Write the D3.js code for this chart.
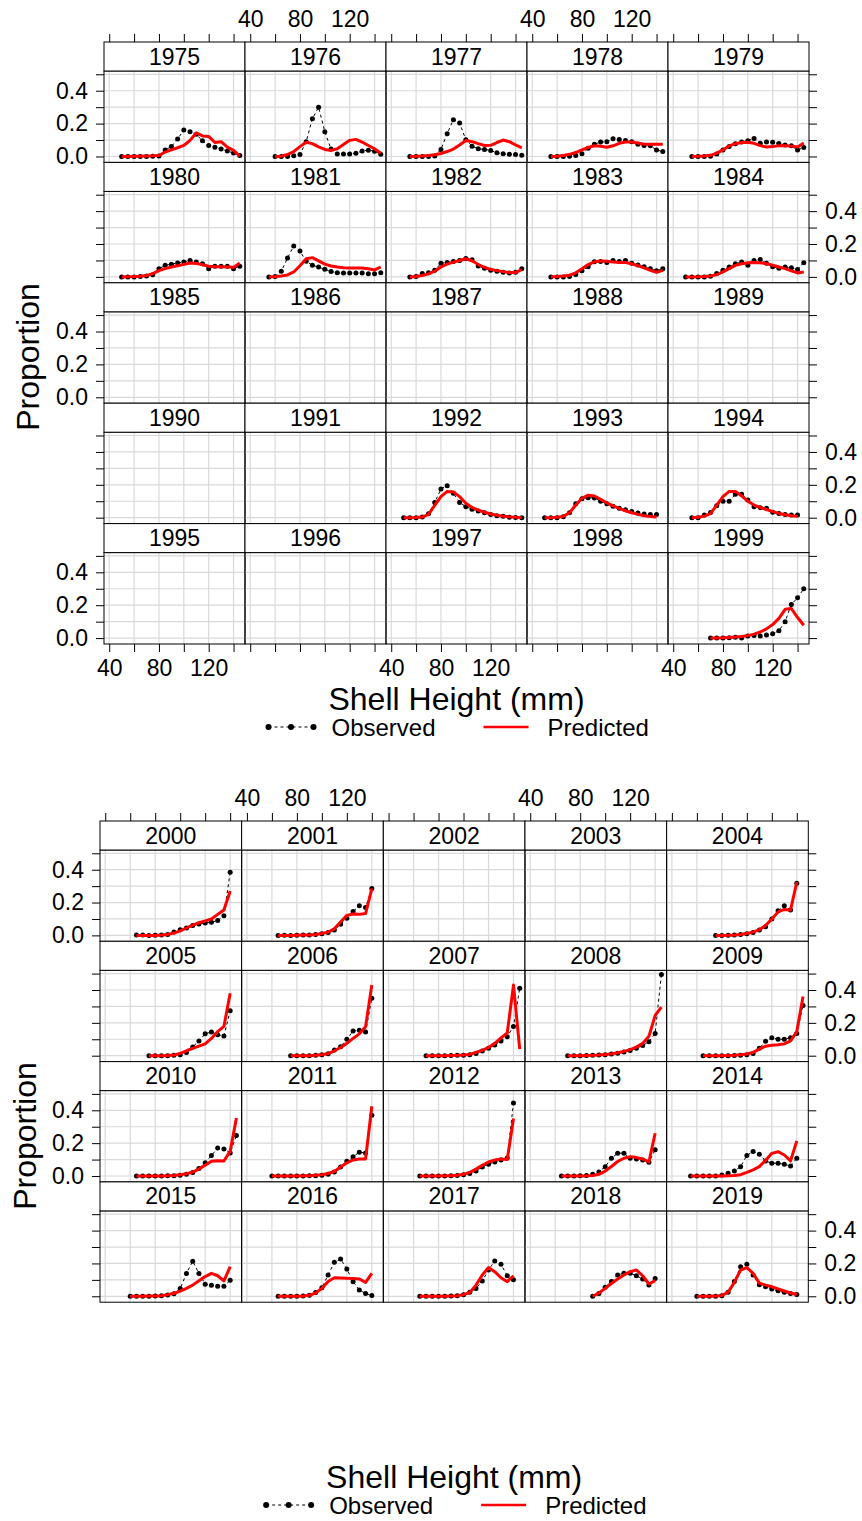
<!DOCTYPE html>
<html>
<head>
<meta charset="utf-8">
<script src="https://cdn.jsdelivr.net/npm/d3@7"></script>
<style>
  body { margin: 0; background: #fff; }
  svg { display: block; font-family: "Liberation Sans", Arial, Helvetica, sans-serif; }
</style>
</head>
<body>
<svg id="chart" width="862" height="1521"></svg>
<script>
// Shell height bins (mm) and axis ticks
const xTicks = [40, 60, 80, 100, 120, 140];
const xTickLabels = [40, 80, 120];
const yTicks = [0, 0.1, 0.2, 0.3, 0.4, 0.5];
const yTickLabels = [0, 0.2, 0.4];

// Observed / predicted size-composition proportions, one pair per survey year.
// Each series starts at the first shell-height bin given in the panel list and steps by 5 mm.
const obs1975 = [0,0,0,0,0,0.002,0.003,0.04,0.06,0.106,0.161,0.15,0.135,0.095,0.067,0.056,0.045,0.033,0.021,0.006];
const pred1975 = [0,0,0.001,0.002,0.003,0.004,0.006,0.027,0.04,0.053,0.067,0.098,0.143,0.125,0.122,0.085,0.09,0.057,0.037,0.002];
const obs1976 = [0,0,0,0.004,0.012,0.09,0.23,0.30,0.15,0.045,0.015,0.015,0.015,0.02,0.033,0.038,0.032,0.013];
const pred1976 = [0,0.002,0.012,0.03,0.06,0.087,0.078,0.058,0.043,0.037,0.047,0.073,0.098,0.104,0.088,0.067,0.047,0.02];
const obs1977 = [0,0,0,0,0.003,0.043,0.139,0.224,0.204,0.102,0.063,0.047,0.043,0.037,0.022,0.016,0.014,0.012,0.008];
const pred1977 = [0,0.001,0.003,0.006,0.01,0.018,0.03,0.045,0.07,0.097,0.09,0.078,0.067,0.068,0.085,0.1,0.09,0.07,0.053];
const obs1978 = [0,0,0,0.002,0.006,0.016,0.05,0.075,0.088,0.089,0.108,0.103,0.097,0.09,0.074,0.067,0.065,0.039,0.031];
const pred1978 = [0,0.002,0.006,0.013,0.024,0.04,0.055,0.065,0.062,0.056,0.065,0.08,0.088,0.088,0.082,0.075,0.074,0.074,0.074];
const obs1979 = [0,0,0,0.001,0.015,0.04,0.06,0.078,0.088,0.096,0.11,0.08,0.088,0.086,0.079,0.07,0.065,0.039,0.055];
const pred1979 = [0,0.001,0.003,0.007,0.02,0.04,0.065,0.078,0.085,0.087,0.08,0.066,0.058,0.06,0.066,0.066,0.063,0.058,0.082];
const obs1980 = [0,0,0,0.003,0.005,0.013,0.05,0.07,0.077,0.085,0.09,0.1,0.09,0.08,0.05,0.064,0.064,0.064,0.05,0.064];
const pred1980 = [0,0.001,0.002,0.004,0.008,0.02,0.038,0.05,0.06,0.068,0.076,0.084,0.082,0.074,0.065,0.062,0.061,0.06,0.058,0.085];
const obs1981 = [0,0.002,0.034,0.115,0.188,0.157,0.095,0.07,0.06,0.046,0.033,0.025,0.023,0.023,0.023,0.023,0.019,0.019,0.025];
const pred1981 = [0,0.002,0.005,0.012,0.03,0.068,0.11,0.117,0.097,0.078,0.066,0.06,0.056,0.054,0.054,0.054,0.05,0.042,0.06];
const obs1982 = [0,0.002,0.02,0.025,0.04,0.083,0.088,0.093,0.1,0.112,0.104,0.066,0.052,0.041,0.034,0.028,0.024,0.028,0.05];
const pred1982 = [0,0.003,0.008,0.018,0.035,0.06,0.078,0.09,0.1,0.11,0.098,0.075,0.058,0.046,0.038,0.032,0.026,0.026,0.045];
const obs1983 = [0,0,0,0.003,0.015,0.037,0.061,0.092,0.093,0.087,0.1,0.093,0.1,0.083,0.072,0.061,0.05,0.037,0.05];
const pred1983 = [0,0.002,0.005,0.01,0.025,0.05,0.075,0.092,0.097,0.095,0.09,0.088,0.087,0.08,0.068,0.055,0.04,0.028,0.04];
const obs1984 = [0,0,0,0,0.004,0.02,0.04,0.06,0.08,0.09,0.07,0.1,0.105,0.083,0.062,0.052,0.06,0.055,0.045,0.086];
const pred1984 = [0,0,0.001,0.003,0.006,0.013,0.03,0.05,0.07,0.08,0.086,0.087,0.086,0.08,0.071,0.06,0.05,0.037,0.024,0.03];
const obs1992 = [0,0,0,0.004,0.024,0.093,0.175,0.195,0.148,0.093,0.067,0.052,0.04,0.03,0.02,0.012,0.008,0.003,0.001,0];
const pred1992 = [0,0,0.001,0.004,0.02,0.075,0.128,0.16,0.157,0.128,0.088,0.062,0.046,0.033,0.022,0.015,0.009,0.005,0.002,0.001];
const obs1993 = [0,0,0,0.005,0.03,0.085,0.115,0.122,0.12,0.1,0.085,0.07,0.058,0.048,0.038,0.028,0.022,0.02,0.02];
const pred1993 = [0,0,0.002,0.008,0.03,0.077,0.118,0.137,0.132,0.112,0.09,0.072,0.057,0.042,0.03,0.02,0.012,0.007,0.004];
const obs1994 = [0,0,0.016,0.032,0.073,0.1,0.1,0.142,0.142,0.108,0.067,0.061,0.057,0.033,0.026,0.02,0.016,0.016];
const pred1994 = [0,0.002,0.01,0.025,0.077,0.128,0.16,0.16,0.133,0.1,0.077,0.062,0.05,0.037,0.026,0.018,0.012,0.008];
const obs1999 = [0,0,0,0.002,0.005,0.001,0.012,0.015,0.012,0.018,0.026,0.045,0.1,0.205,0.245,0.3];
const pred1999 = [0,0.001,0.002,0.004,0.006,0.01,0.015,0.024,0.037,0.056,0.082,0.12,0.175,0.18,0.125,0.078];

const obs2000 = [0.002,0.002,0,0.001,0.002,0.006,0.02,0.035,0.045,0.06,0.07,0.075,0.08,0.09,0.12,0.385];
const pred2000 = [0,0,0,0,0.002,0.006,0.014,0.027,0.045,0.063,0.077,0.088,0.1,0.128,0.155,0.27];
const obs2001 = [0,0.001,0,0.001,0.002,0.002,0.005,0.01,0.018,0.033,0.068,0.105,0.145,0.18,0.17,0.285];
const pred2001 = [0,0,0,0.001,0.002,0.003,0.006,0.011,0.02,0.04,0.082,0.122,0.13,0.128,0.133,0.285];
const obs2004 = [0,0,0.001,0.002,0.006,0.01,0.018,0.033,0.053,0.1,0.15,0.18,0.155,0.318];
const pred2004 = [0,0,0.001,0.003,0.006,0.011,0.02,0.035,0.06,0.1,0.143,0.158,0.155,0.325];
const obs2005 = [0,0,0,0,0.002,0.005,0.02,0.053,0.09,0.133,0.145,0.127,0.12,0.273];
const pred2005 = [0,0,0,0.001,0.004,0.014,0.03,0.045,0.058,0.072,0.105,0.147,0.178,0.38];
const obs2006 = [0,0,0,0,0.002,0.005,0.012,0.035,0.055,0.1,0.15,0.155,0.145,0.35];
const pred2006 = [0,0,0,0,0.002,0.005,0.013,0.03,0.05,0.075,0.105,0.133,0.176,0.43];
const obs2007 = [0,0,0,0,0.001,0.002,0.003,0.005,0.014,0.029,0.045,0.065,0.09,0.116,0.178,0.41];
const pred2007 = [0,0,0,0,0.001,0.002,0.004,0.008,0.02,0.033,0.05,0.075,0.108,0.138,0.43,0.04];
const obs2008 = [0,0,0,0.001,0.002,0.004,0.006,0.01,0.015,0.022,0.032,0.045,0.062,0.085,0.135,0.495];
const pred2008 = [0,0,0,0.001,0.002,0.004,0.007,0.011,0.018,0.026,0.037,0.052,0.075,0.118,0.245,0.296];
const obs2009 = [0,0,0,0,0,0.001,0.003,0.006,0.014,0.045,0.088,0.11,0.1,0.1,0.11,0.135,0.305];
const pred2009 = [0,0,0,0,0.001,0.002,0.005,0.01,0.02,0.04,0.058,0.063,0.066,0.072,0.09,0.147,0.36];
const obs2010 = [0,0,0,0,0,0.001,0.002,0.005,0.01,0.022,0.045,0.08,0.125,0.17,0.165,0.14,0.247];
const pred2010 = [0,0,0,0,0,0.001,0.003,0.007,0.013,0.024,0.042,0.066,0.09,0.093,0.092,0.15,0.353];
const obs2011 = [0,0,0,0,0,0,0.001,0.002,0.005,0.01,0.025,0.055,0.09,0.117,0.145,0.14,0.37];
const pred2011 = [0,0,0,0,0,0.001,0.002,0.004,0.008,0.015,0.027,0.055,0.08,0.098,0.103,0.104,0.425];
const obs2012 = [0,0,0,0,0,0.001,0.003,0.007,0.015,0.03,0.055,0.072,0.085,0.098,0.11,0.445];
const pred2012 = [0,0,0,0,0.001,0.002,0.005,0.01,0.022,0.042,0.065,0.085,0.097,0.103,0.1,0.35];
const obs2013 = [0,0,0,0.001,0.003,0.01,0.025,0.057,0.108,0.139,0.139,0.108,0.104,0.098,0.084,0.16];
const pred2013 = [0,0,0,0,0.001,0.003,0.01,0.03,0.058,0.088,0.108,0.118,0.112,0.104,0.085,0.26];
const obs2014 = [0,0,0,0,0,0.006,0.016,0.03,0.057,0.125,0.149,0.133,0.092,0.078,0.078,0.071,0.061,0.108];
const pred2014 = [0,0,0,0,0,0,0.001,0.003,0.008,0.022,0.037,0.057,0.095,0.138,0.148,0.128,0.092,0.214];
const obs2015 = [0,0,0,0,0.002,0.004,0.008,0.015,0.047,0.139,0.214,0.139,0.074,0.067,0.061,0.061,0.098];
const pred2015 = [0,0,0,0.001,0.002,0.004,0.01,0.018,0.032,0.048,0.068,0.095,0.12,0.14,0.125,0.094,0.18];
const obs2016 = [0,0,0,0,0.002,0.007,0.023,0.052,0.13,0.207,0.227,0.166,0.089,0.038,0.017,0.005];
const pred2016 = [0,0,0,0,0.002,0.006,0.02,0.048,0.09,0.113,0.112,0.11,0.109,0.105,0.085,0.14];
const obs2017 = [0,0,0,0,0,0.001,0.003,0.01,0.025,0.048,0.093,0.16,0.215,0.195,0.125,0.1];
const pred2017 = [0,0,0,0,0,0.001,0.003,0.01,0.023,0.068,0.13,0.175,0.15,0.113,0.089,0.125];
const obs2018 = [0,0.017,0.055,0.09,0.13,0.14,0.14,0.125,0.105,0.068,0.109];
const pred2018 = [0,0.02,0.048,0.078,0.105,0.13,0.15,0.16,0.125,0.075,0.095];
const obs2019 = [0,0,0,0,0.003,0.024,0.09,0.18,0.195,0.13,0.07,0.058,0.045,0.033,0.024,0.017,0.011];
const pred2019 = [0,0,0,0.001,0.005,0.025,0.085,0.16,0.175,0.14,0.08,0.068,0.058,0.045,0.032,0.02,0.011];

// Panel order (as.table): year, first bin (mm), observed, predicted
const yearsA = [
  [1975, 50, obs1975, pred1975], [1976, 60, obs1976, pred1976], [1977, 55, obs1977, pred1977],
  [1978, 55, obs1978, pred1978], [1979, 55, obs1979, pred1979],
  [1980, 50, obs1980, pred1980], [1981, 55, obs1981, pred1981], [1982, 55, obs1982, pred1982],
  [1983, 55, obs1983, pred1983], [1984, 50, obs1984, pred1984],
  [1985], [1986], [1987], [1988], [1989],
  [1990], [1991], [1992, 50, obs1992, pred1992], [1993, 50, obs1993, pred1993], [1994, 55, obs1994, pred1994],
  [1995], [1996], [1997], [1998], [1999, 70, obs1999, pred1999]
];
const yearsB = [
  [2000, 65, obs2000, pred2000], [2001, 65, obs2001, pred2001], [2002], [2003], [2004, 75, obs2004, pred2004],
  [2005, 75, obs2005, pred2005], [2006, 75, obs2006, pred2006], [2007, 70, obs2007, pred2007],
  [2008, 70, obs2008, pred2008], [2009, 65, obs2009, pred2009],
  [2010, 65, obs2010, pred2010], [2011, 60, obs2011, pred2011], [2012, 65, obs2012, pred2012],
  [2013, 65, obs2013, pred2013], [2014, 55, obs2014, pred2014],
  [2015, 60, obs2015, pred2015], [2016, 65, obs2016, pred2016], [2017, 65, obs2017, pred2017],
  [2018, 90, obs2018, pred2018], [2019, 60, obs2019, pred2019]
];

const xDomain = [35.8, 149.2];
const yDomain = [-0.036, 0.52];
const BIN = 5;

const svg = d3.select("#chart");
const fmtY = d3.format(".1f");

function toPoints(first, values) {
  return values.map((v, i) => ({ size: first + i * BIN, p: v }));
}

function lattice(cfg) {
  const g = svg.append("g");
  const panelH = cfg.rowH - cfg.stripH;
  const x = d3.scaleLinear().domain(xDomain).range([0, cfg.colW]);
  const y = d3.scaleLinear().domain(yDomain).range([panelH, 0]);
  const nUsedRows = Math.ceil(cfg.years.length / 5);

  const lineObs = d3.line().x(d => x(d.size)).y(d => y(d.p));
  const linePred = d3.line().x(d => x(d.size)).y(d => y(d.p));

  cfg.years.forEach((entry, i) => {
    const [year, first, obs, pred] = entry;
    const col = i % 5, row = Math.floor(i / 5);
    const px = cfg.left + col * cfg.colW;
    const sy = cfg.top + row * cfg.rowH;
    const py = sy + cfg.stripH;

    const p = g.append("g").attr("transform", `translate(${px},${py})`);
    // background grid
    p.selectAll("line.gx").data(xTicks).join("line")
      .attr("x1", d => x(d)).attr("x2", d => x(d))
      .attr("y1", 0).attr("y2", panelH)
      .attr("stroke", "#d9d9d9").attr("stroke-width", 1.2);
    p.selectAll("line.gy").data(yTicks).join("line")
      .attr("x1", 0).attr("x2", cfg.colW)
      .attr("y1", d => y(d)).attr("y2", d => y(d))
      .attr("stroke", "#d9d9d9").attr("stroke-width", 1.2);

    if (obs) {
      const o = toPoints(first, obs);
      const q = toPoints(first, pred);
      p.append("path").datum(o).attr("d", lineObs)
        .attr("fill", "none").attr("stroke", "#000").attr("stroke-width", 1)
        .attr("stroke-dasharray", "3,3");
      p.selectAll("circle").data(o).join("circle")
        .attr("cx", d => x(d.size)).attr("cy", d => y(d.p)).attr("r", 2.5)
        .attr("fill", "#000");
      p.append("path").datum(q).attr("d", linePred)
        .attr("fill", "none").attr("stroke", "#ff0000").attr("stroke-width", 3)
        .attr("stroke-linejoin", "round");
    }
    p.append("rect").attr("width", cfg.colW).attr("height", panelH)
      .attr("fill", "none").attr("stroke", "#000").attr("stroke-width", 1);

    // strip
    const s = g.append("g").attr("transform", `translate(${px},${sy})`);
    s.append("rect").attr("width", cfg.colW).attr("height", cfg.stripH)
      .attr("fill", "#fff").attr("stroke", "#000").attr("stroke-width", 1);
    s.append("text").attr("x", cfg.colW / 2).attr("y", cfg.stripH / 2).attr("dy", "0.35em")
      .attr("text-anchor", "middle").attr("font-size", 23).text(year);
  });

  const styleAxis = sel => {
    sel.select(".domain").remove();
    sel.selectAll(".tick line").attr("stroke", "#000").attr("stroke-width", 1);
    sel.selectAll(".tick text").attr("font-size", 23).attr("fill", "#000")
      .attr("font-family", "Liberation Sans, Arial, sans-serif");
  };

  // y axes on both sides of every row
  for (let r = 0; r < nUsedRows; r++) {
    const py = cfg.top + r * cfg.rowH + cfg.stripH;
    const leftLab = cfg.leftLabelRows.includes(r);
    const rightLab = cfg.rightLabelRows.includes(r);
    g.append("g").attr("transform", `translate(${cfg.left},${py})`)
      .call(d3.axisLeft(y).tickValues(yTicks).tickSize(8).tickPadding(8)
        .tickFormat(d => leftLab && yTickLabels.includes(d) ? fmtY(d) : ""))
      .call(styleAxis);
    g.append("g").attr("transform", `translate(${cfg.left + 5 * cfg.colW},${py})`)
      .call(d3.axisRight(y).tickValues(yTicks).tickSize(8).tickPadding(8)
        .tickFormat(d => rightLab && yTickLabels.includes(d) ? fmtY(d) : ""))
      .call(styleAxis);
  }

  // x axes: top of the figure for every column, bottom when the last row is drawn
  for (let c = 0; c < 5; c++) {
    const px = cfg.left + c * cfg.colW;
    const topLab = cfg.topLabelCols.includes(c);
    g.append("g").attr("transform", `translate(${px},${cfg.top})`)
      .call(d3.axisTop(x).tickValues(xTicks).tickSize(8).tickPadding(7)
        .tickFormat(d => topLab && xTickLabels.includes(d) ? d : ""))
      .call(styleAxis);
    if (cfg.bottomAxis) {
      const by = cfg.top + nUsedRows * cfg.rowH;
      const botLab = cfg.bottomLabelCols.includes(c);
      g.append("g").attr("transform", `translate(${px},${by})`)
        .call(d3.axisBottom(x).tickValues(xTicks).tickSize(8).tickPadding(8)
          .tickFormat(d => botLab && xTickLabels.includes(d) ? d : ""))
        .call(styleAxis);
    }
  }

  // axis titles
  const cx = cfg.left + 2.5 * cfg.colW;
  g.append("text").attr("x", cx).attr("y", cfg.xlabY).attr("text-anchor", "middle")
    .attr("font-size", 32).text("Shell Height (mm)");
  g.append("text").attr("transform", `translate(${cfg.ylabX},${cfg.ylabY}) rotate(-90)`)
    .attr("text-anchor", "middle").attr("font-size", 32).text("Proportion");

  // key
  const ky = cfg.keyY;
  const k = g.append("g").attr("transform", `translate(${cx},${ky})`);
  const keyDots = [-188, -165.5, -143];
  k.append("line").attr("x1", keyDots[0]).attr("x2", keyDots[2]).attr("y1", 0).attr("y2", 0)
    .attr("stroke", "#000").attr("stroke-width", 1).attr("stroke-dasharray", "3,3");
  k.selectAll("circle").data(keyDots).join("circle")
    .attr("cx", d => d).attr("cy", 0).attr("r", 3).attr("fill", "#000");
  k.append("text").attr("x", -125).attr("y", 9).attr("font-size", 24).text("Observed");
  k.append("line").attr("x1", 27).attr("x2", 72).attr("y1", 0).attr("y2", 0)
    .attr("stroke", "#ff0000").attr("stroke-width", 2.5);
  k.append("text").attr("x", 91).attr("y", 9).attr("font-size", 24).text("Predicted");
}

lattice({
  years: yearsA, left: 104, top: 42, colW: 141, rowH: 120.4, stripH: 29,
  leftLabelRows: [0, 2, 4], rightLabelRows: [1, 3], topLabelCols: [1, 3],
  bottomAxis: true, bottomLabelCols: [0, 2, 4],
  xlabY: 710, ylabX: 39, ylabY: 357, keyY: 727
});

lattice({
  years: yearsB, left: 100, top: 821, colW: 141.66, rowH: 120.3, stripH: 29,
  leftLabelRows: [0, 2], rightLabelRows: [1, 3], topLabelCols: [1, 3],
  bottomAxis: false, bottomLabelCols: [],
  xlabY: 1488, ylabX: 36, ylabY: 1136, keyY: 1505
});
</script>
</body>
</html>
